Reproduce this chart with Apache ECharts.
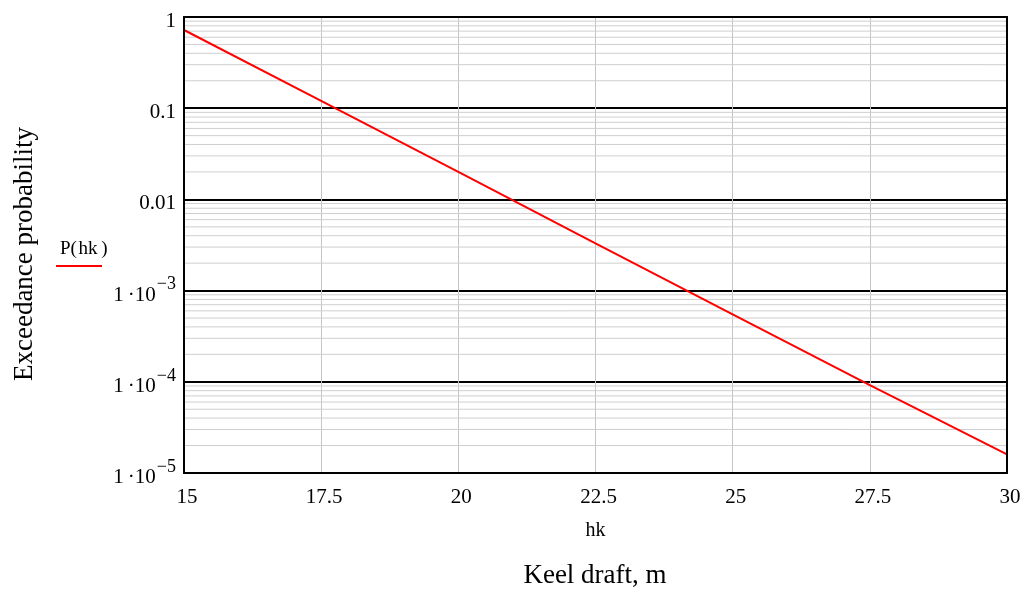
<!DOCTYPE html>
<html>
<head>
<meta charset="utf-8">
<title>Exceedance probability vs keel draft</title>
<script src="https://cdn.jsdelivr.net/npm/echarts@6/dist/echarts.min.js"></script>
<style>
  html, body { margin: 0; padding: 0; background: #fff; }
  #chart { width: 1024px; height: 590px; }
</style>
</head>
<body>
<div id="chart"></div>
<script>
// Keel draft hk (m) and exceedance probability P(hk)
const hk = [15, 17.5, 20, 22.5, 25, 27.5, 30];
const P = [0.72, 0.12, 0.02, 0.0033, 0.00055, 0.000092, 0.000016];

// Axis settings
const xTicks = [15, 17.5, 20, 22.5, 25, 27.5, 30];
const yDecades = [-5, -4, -3, -2, -1];       // decade exponents covered by the log axis
const minorSteps = [2, 3, 4, 5, 6, 7, 8, 9];  // minor grid multipliers within each decade

const FONT = '"Liberation Serif", "DejaVu Serif", serif';
const X_MIN = 15, X_MAX = 30, Y_MIN = 1e-5, Y_MAX = 1;

// Minor horizontal grid: one segment per value, broken by '-' gaps
const minorData = [];
yDecades.forEach(e => minorSteps.forEach(k => {
  const v = k * Math.pow(10, e);
  minorData.push([X_MIN, v], [X_MAX, v], [X_MAX, '-']);
}));

function yLabel(v) {
  const e = Math.round(Math.log10(v));
  if (e === 0) return '{n|1}';
  if (e === -1) return '{n|0.1}';
  if (e === -2) return '{n|0.01}';
  return '{b|1\u2009\u00B710}{s|\u2212' + (-e) + '}';
}

// Frame axes: only a black axis line, drawn above the plotted data
function frameX(position) {
  return {
    type: 'value', min: X_MIN, max: X_MAX, position, z: 10,
    axisLine: { show: true, onZero: false, lineStyle: { color: '#000', width: 2 } },
    axisTick: { show: false }, axisLabel: { show: false }, splitLine: { show: false }
  };
}
function frameY(position) {
  return {
    type: 'log', logBase: 10, min: Y_MIN, max: Y_MAX, position, z: 10,
    axisLine: { show: true, onZero: false, lineStyle: { color: '#000', width: 2 } },
    axisTick: { show: false }, axisLabel: { show: false }, splitLine: { show: false }
  };
}

const chart = echarts.init(document.getElementById('chart'), null, { renderer: 'canvas' });
chart.setOption({
  animation: false,
  backgroundColor: '#fff',
  textStyle: { fontFamily: FONT },
  grid: { left: 184, right: 17, top: 17, bottom: 117 },
  xAxis: [
    {
      type: 'value', min: X_MIN, max: X_MAX, interval: 2.5, position: 'bottom',
      name: 'hk', nameLocation: 'middle', nameGap: 48,
      nameTextStyle: { fontFamily: FONT, fontSize: 20, color: '#000' },
      axisLine: { show: false }, axisTick: { show: false },
      axisLabel: {
        fontFamily: FONT, fontSize: 21, color: '#000', margin: 14,
        padding: [0, 0, 0, 6],
        formatter: v => (xTicks.includes(v) ? String(v) : '')
      },
      splitLine: { show: true, lineStyle: { color: '#c4c4c4', width: 1 } }
    },
    frameX('bottom'),
    frameX('top')
  ],
  yAxis: [
    {
      type: 'log', logBase: 10, min: Y_MIN, max: Y_MAX, position: 'left',
      axisLine: { show: false }, axisTick: { show: false },
      axisLabel: {
        fontFamily: FONT, fontSize: 21, color: '#000', margin: 8,
        formatter: yLabel,
        rich: {
          n: { fontFamily: FONT, fontSize: 21, color: '#000', padding: [9, 0, 0, 0] },
          b: { fontFamily: FONT, fontSize: 21, color: '#000', padding: [9, 0, 0, 0] },
          s: { fontFamily: FONT, fontSize: 18, color: '#000', padding: [0, 0, 12, 1] }
        }
      },
      splitLine: { show: true, lineStyle: { color: '#000', width: 2 } }
    },
    frameY('left'),
    frameY('right')
  ],
  series: [
    {
      name: 'minor',
      type: 'line',
      xAxisIndex: 0, yAxisIndex: 0,
      data: minorData,
      connectNulls: false,
      showSymbol: false,
      silent: true,
      z: 1,
      lineStyle: { color: '#cfcfcf', width: 1 },
      emphasis: { disabled: true }
    },
    {
      name: 'P(hk)',
      type: 'line',
      xAxisIndex: 0, yAxisIndex: 0,
      data: hk.map((x, i) => [x, P[i]]),
      showSymbol: false,
      z: 5,
      lineStyle: { color: '#ff0000', width: 2 },
      itemStyle: { color: '#ff0000' }
    }
  ],
  graphic: [
    {
      type: 'text', left: 60, top: 240,
      style: { text: 'P(\u200Ahk\u2009)', fontFamily: FONT, fontSize: 19, fill: '#000' }
    },
    {
      type: 'line', shape: { x1: 56, y1: 266, x2: 102, y2: 266 },
      style: { stroke: '#ff0000', lineWidth: 2 }
    },
    {
      type: 'text', x: 25, y: 254, rotation: Math.PI / 2,
      style: {
        text: 'Exceedance probability', fontFamily: FONT, fontSize: 27, fill: '#000',
        align: 'center', verticalAlign: 'middle'
      }
    },
    {
      type: 'text', x: 595, y: 576,
      style: {
        text: 'Keel draft, m', fontFamily: FONT, fontSize: 27, fill: '#000',
        align: 'center', verticalAlign: 'middle'
      }
    }
  ]
});
</script>
</body>
</html>
